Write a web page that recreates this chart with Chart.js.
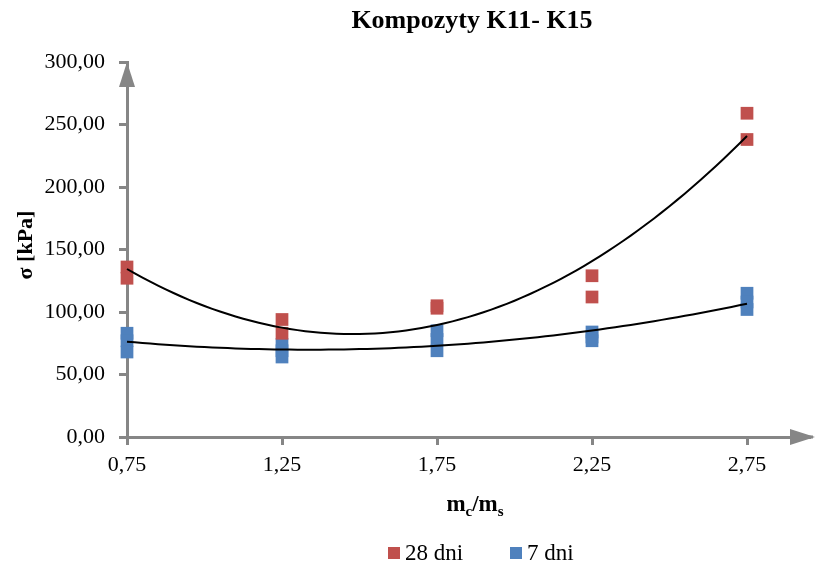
<!DOCTYPE html>
<html>
<head>
<meta charset="utf-8">
<script src="https://cdn.jsdelivr.net/npm/chart.js@4/dist/chart.umd.min.js"></script>
<style>
  html, body { margin: 0; padding: 0; background: #ffffff; }
  #wrap { width: 818px; height: 573px; }
</style>
</head>
<body>
<div id="wrap"><canvas id="c" width="818" height="573"></canvas></div>
<script>
// Mass ratio m_c/m_s of each composite (K11 ... K15)
const ratios = [0.75, 1.25, 1.75, 2.25, 2.75];
// Compressive strength σ [kPa], individual specimens at each ratio
const sigma28 = [[136, 127], [94, 83], [105, 103], [129, 112], [259, 238]];
const sigma7 = [[83, 77, 68], [74, 69, 64], [85, 78, 69], [84, 80, 77], [115, 108, 102]];
// Axis tick values
const xTicks = [0.75, 1.25, 1.75, 2.25, 2.75];
const yTicks = [0, 50, 100, 150, 200, 250, 300];

const RED = '#C0504D';
const BLUE = '#4F81BD';
const AXIS = '#868686';
const FONT = '"Liberation Serif", "Times New Roman", serif';

function toPoints(groups) {
  const pts = [];
  groups.forEach((vals, i) => vals.forEach(v => pts.push({ x: ratios[i], y: v })));
  return pts;
}

// Second-order polynomial trendline (least squares) through the specimens
function quadTrend(points, steps) {
  let s0 = 0, s1 = 0, s2 = 0, s3 = 0, s4 = 0, t0 = 0, t1 = 0, t2 = 0;
  points.forEach(p => {
    const x = p.x, y = p.y;
    s0 += 1; s1 += x; s2 += x * x; s3 += x * x * x; s4 += x * x * x * x;
    t0 += y; t1 += x * y; t2 += x * x * y;
  });
  const M = [[s0, s1, s2, t0], [s1, s2, s3, t1], [s2, s3, s4, t2]];
  for (let i = 0; i < 3; i++) {
    for (let k = i + 1; k < 3; k++) {
      const f = M[k][i] / M[i][i];
      for (let j = i; j < 4; j++) M[k][j] -= f * M[i][j];
    }
  }
  const c = [0, 0, 0];
  for (let i = 2; i >= 0; i--) {
    let s = M[i][3];
    for (let j = i + 1; j < 3; j++) s -= M[i][j] * c[j];
    c[i] = s / M[i][i];
  }
  const x0 = ratios[0], x1 = ratios[ratios.length - 1];
  const out = [];
  for (let i = 0; i <= steps; i++) {
    const x = x0 + (x1 - x0) * i / steps;
    out.push({ x: x, y: c[0] + c[1] * x + c[2] * x * x });
  }
  return out;
}

const pts28 = toPoints(sigma28);
const pts7 = toPoints(sigma7);

const fmt = v => v.toFixed(2).replace('.', ',');

// Title, axis titles, arrows and legend
const decor = {
  id: 'decor',
  afterDraw(chart) {
    const ctx = chart.ctx;
    const a = chart.chartArea;
    ctx.save();
    // axis arrow heads
    ctx.fillStyle = AXIS;
    ctx.beginPath();
    ctx.moveTo(a.left, a.top);
    ctx.lineTo(a.left - 8, a.top + 25);
    ctx.lineTo(a.left + 8, a.top + 25);
    ctx.closePath();
    ctx.fill();
    ctx.fillRect(a.right - 2, a.bottom - 1.5, 6, 3);
    ctx.beginPath();
    ctx.moveTo(a.right + 6, a.bottom);
    ctx.lineTo(a.right - 19, a.bottom - 8);
    ctx.lineTo(a.right - 19, a.bottom + 8);
    ctx.closePath();
    ctx.fill();

    ctx.fillStyle = '#000000';
    // chart title
    ctx.font = 'bold 26px ' + FONT;
    ctx.textAlign = 'center';
    ctx.textBaseline = 'middle';
    ctx.fillText('Kompozyty K11- K15', 472, 21);

    // y axis title
    ctx.font = 'bold 22px ' + FONT;
    ctx.save();
    ctx.translate(26, 245);
    ctx.rotate(-Math.PI / 2);
    ctx.fillText('σ [kPa]', 0, 0);
    ctx.restore();

    // x axis title with subscripts: m_c/m_s
    const big = 'bold 23px ' + FONT, small = 'bold 15px ' + FONT;
    const parts = [['m', big, 0], ['c', small, 5], ['/m', big, 0], ['s', small, 5]];
    let total = 0;
    parts.forEach(p => { ctx.font = p[1]; total += ctx.measureText(p[0]).width; });
    let x = 475 - total / 2;
    ctx.textAlign = 'left';
    ctx.textBaseline = 'alphabetic';
    parts.forEach(p => {
      ctx.font = p[1];
      ctx.fillText(p[0], x, 511 + p[2]);
      x += ctx.measureText(p[0]).width;
    });

    // legend
    ctx.font = '23px ' + FONT;
    ctx.textBaseline = 'middle';
    ctx.fillStyle = RED;
    ctx.fillRect(388, 547, 12, 12);
    ctx.fillStyle = '#000000';
    ctx.fillText('28 dni', 405, 554);
    ctx.fillStyle = BLUE;
    ctx.fillRect(510, 547, 12, 12);
    ctx.fillStyle = '#000000';
    ctx.fillText('7 dni', 527, 554);
    ctx.restore();
  }
};

new Chart(document.getElementById('c'), {
  type: 'scatter',
  data: {
    datasets: [
      { label: 'trend 28', data: quadTrend(pts28, 80), showLine: true, borderColor: '#000000',
        borderWidth: 2, pointRadius: 0, tension: 0, order: 0, clip: false },
      { label: 'trend 7', data: quadTrend(pts7, 80), showLine: true, borderColor: '#000000',
        borderWidth: 2, pointRadius: 0, tension: 0, order: 0, clip: false },
      { label: '28 dni', data: pts28, pointStyle: 'rect', pointRadius: 9, pointBorderWidth: 0,
        backgroundColor: RED, borderColor: RED, order: 1, clip: false },
      { label: '7 dni', data: pts7, pointStyle: 'rect', pointRadius: 9, pointBorderWidth: 0,
        backgroundColor: BLUE, borderColor: BLUE, order: 1, clip: false }
    ]
  },
  options: {
    responsive: false,
    animation: false,
    layout: { padding: { top: 62, right: 0, left: 0, bottom: 0 } },
    plugins: { legend: { display: false }, title: { display: false }, tooltip: { enabled: false } },
    scales: {
      x: {
        type: 'linear',
        min: 0.75,
        max: 2.95,
        afterFit: s => { s.height = 136; },
        afterBuildTicks: s => { s.ticks = xTicks.map(v => ({ value: v })); },
        border: { display: true, color: AXIS, width: 3 },
        grid: { drawOnChartArea: false, drawTicks: true, tickLength: 8, color: AXIS, lineWidth: 3 },
        ticks: { color: '#000000', font: { family: FONT, size: 22 }, padding: 7, maxRotation: 0,
                 callback: v => fmt(v) }
      },
      y: {
        min: 0,
        max: 300,
        afterFit: s => { s.width = 127; },
        afterBuildTicks: s => { s.ticks = yTicks.map(v => ({ value: v })); },
        border: { display: true, color: AXIS, width: 3 },
        grid: { drawOnChartArea: false, drawTicks: true, tickLength: 8, color: AXIS, lineWidth: 3 },
        ticks: { color: '#000000', font: { family: FONT, size: 22 }, padding: 14,
                 callback: v => fmt(v) }
      }
    }
  },
  plugins: [decor]
});
</script>
</body>
</html>
